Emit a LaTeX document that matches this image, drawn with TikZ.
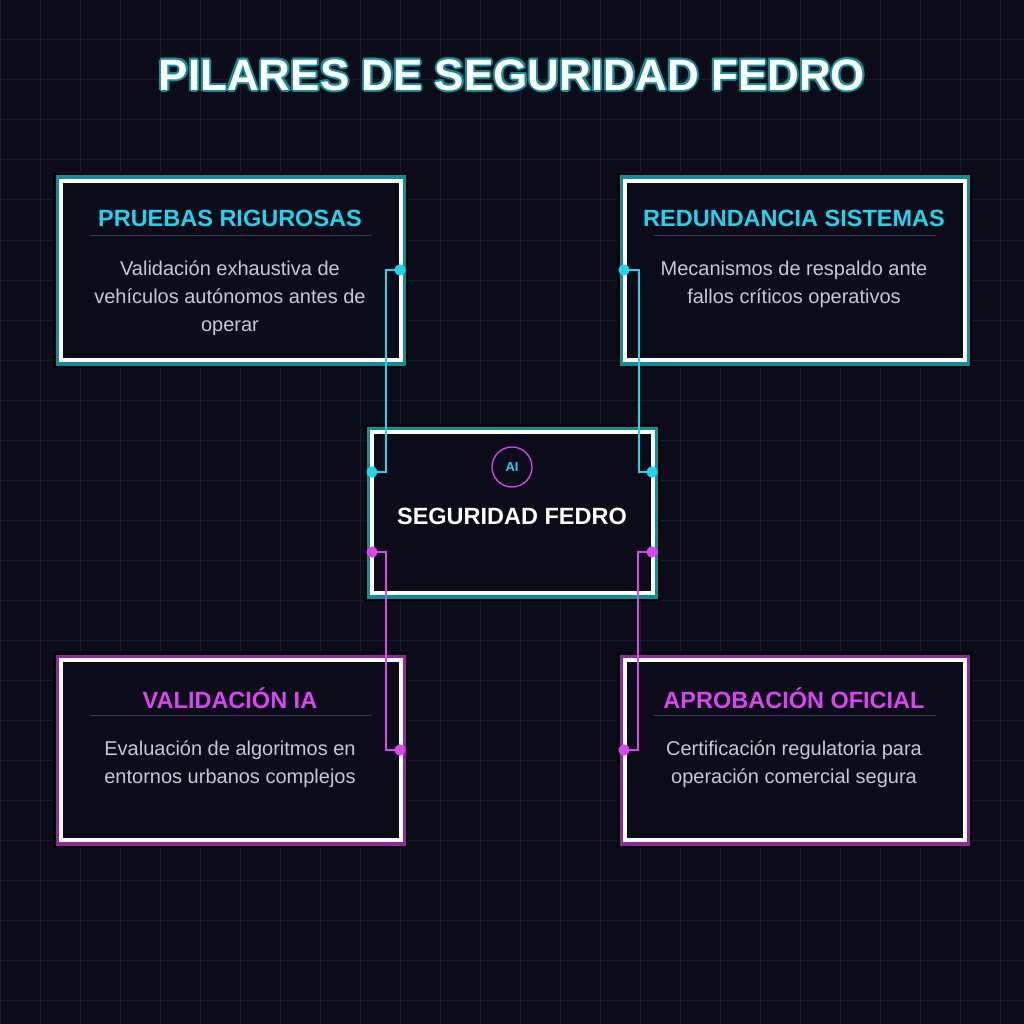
\documentclass[tikz,border=0pt]{standalone}
\usepackage{fontspec}
\setmainfont{Liberation Sans}
\definecolor{bg}{HTML}{0B0B1A}
\definecolor{gridc}{HTML}{1A1A2E}
\definecolor{cy}{HTML}{22D3EE}
\definecolor{mg}{HTML}{D946EF}
\definecolor{tealb}{HTML}{138C96}
\definecolor{purb}{HTML}{8E2A9E}
\definecolor{bodyc}{HTML}{C8C8D4}
\definecolor{sepc}{HTML}{3A3A4E}
\tikzset{
  hd/.style={font=\bfseries\fontsize{23.5}{26}\selectfont,anchor=center},
  bd/.style={font=\fontsize{20}{28}\selectfont,text=bodyc,align=center,anchor=north},
  wire/.style={line width=1.6pt},
  dot/.style={circle,inner sep=0pt,minimum size=11pt},
}
\newcommand{\panel}[5]{% x1 y1 x2 y2 band colour
  \fill[black] (#1-8,#2-8) rectangle (#3+7,#4+8);
  \draw[#5,line width=5pt] (#1-3,#2-3) rectangle (#3+2,#4+3);
  \fill[bg] (#1,#2) rectangle (#3,#4);
  \draw[white,line width=3.5pt] (#1,#2) rectangle (#3,#4);
}
\begin{document}
\begin{tikzpicture}[x=1pt,y=-1pt]
\useasboundingbox (0,0) rectangle (1024,1024);
\fill[bg] (0,0) rectangle (1024,1024);
\foreach \i in {0,40,...,1000}{\draw[gridc,line width=1pt] (\i,0)--(\i,1024); \draw[gridc,line width=1pt] (0,\i)--(1024,\i);}
% title
\foreach \dx/\dy in {-2/0,2/0,0/-2,0/2,-1.5/-1.5,1.5/1.5,-1.5/1.5,1.5/-1.5}
  \node[font=\bfseries\fontsize{44}{48}\selectfont,text=tealb] at (512+\dx,75+\dy) {PILARES DE SEGURIDAD FEDRO};
\node[font=\bfseries\fontsize{44}{48}\selectfont,text=white] (title) at (512,75) {PILARES DE SEGURIDAD FEDRO};
% panels
\panel{61}{181}{401}{360}{tealb}
\panel{625}{181}{965}{360}{tealb}
\panel{61}{660}{401}{840}{purb}
\panel{625}{660}{965}{840}{purb}
\panel{372}{432}{653}{593}{tealb}
% texts
\node[hd,text=cy] (t1) at (230,218) {PRUEBAS RIGUROSAS};
\draw[sepc] (90,235)--(372,235);
\node[bd] (b1) at (230,257) {Validación exhaustiva de\\vehículos autónomos antes de\\operar};
\node[hd,text=cy] (t2) at (794,218) {REDUNDANCIA SISTEMAS};
\draw[sepc] (654,235)--(936,235);
\node[bd] (b2) at (794,257) {Mecanismos de respaldo ante\\fallos críticos operativos};
\node[hd,text=mg] (t3) at (230,698) {VALIDACIÓN IA};
\draw[sepc] (90,715)--(372,715);
\node[bd] (b3) at (230,737) {Evaluación de algoritmos en\\entornos urbanos complejos};
\node[hd,text=mg] (t4) at (794,698) {APROBACIÓN OFICIAL};
\draw[sepc] (654,715)--(936,715);
\node[bd] (b4) at (794,737) {Certificación regulatoria para\\operación comercial segura};
% center
\node[circle,draw=mg,line width=1.3pt,minimum size=40pt,inner sep=0pt,text=cy,font=\bfseries\fontsize{13}{15}\selectfont] (ai) at (512,467) {AI};
\node[font=\bfseries\fontsize{23.5}{26}\selectfont,text=white] (c) at (512,516) {SEGURIDAD FEDRO};
% connectors
\node[dot,fill=cy] (p1) at (400,270) {}; \node[dot,fill=cy] (q1) at (372,472) {};
\node[dot,fill=cy] (p2) at (624,270) {}; \node[dot,fill=cy] (q2) at (652,472) {};
\node[dot,fill=mg] (p3) at (400,750) {}; \node[dot,fill=mg] (q3) at (372,552) {};
\node[dot,fill=mg] (p4) at (624,750) {}; \node[dot,fill=mg] (q4) at (652,552) {};
\draw[wire,cy] (p1.center) -- (386,270) -- (386,472) -- (q1.center);
\draw[wire,cy] (p2.center) -- (639,270) -- (639,472) -- (q2.center);
\draw[wire,mg] (q3.center) -- (386,552) -- (386,750) -- (p3.center);
\draw[wire,mg] (q4.center) -- (638,552) -- (638,750) -- (p4.center);
\foreach \n/\c in {p1/cy,q1/cy,p2/cy,q2/cy,p3/mg,q3/mg,p4/mg,q4/mg} \fill[\c] (\n) circle (5.5);
\end{tikzpicture}
\end{document}
